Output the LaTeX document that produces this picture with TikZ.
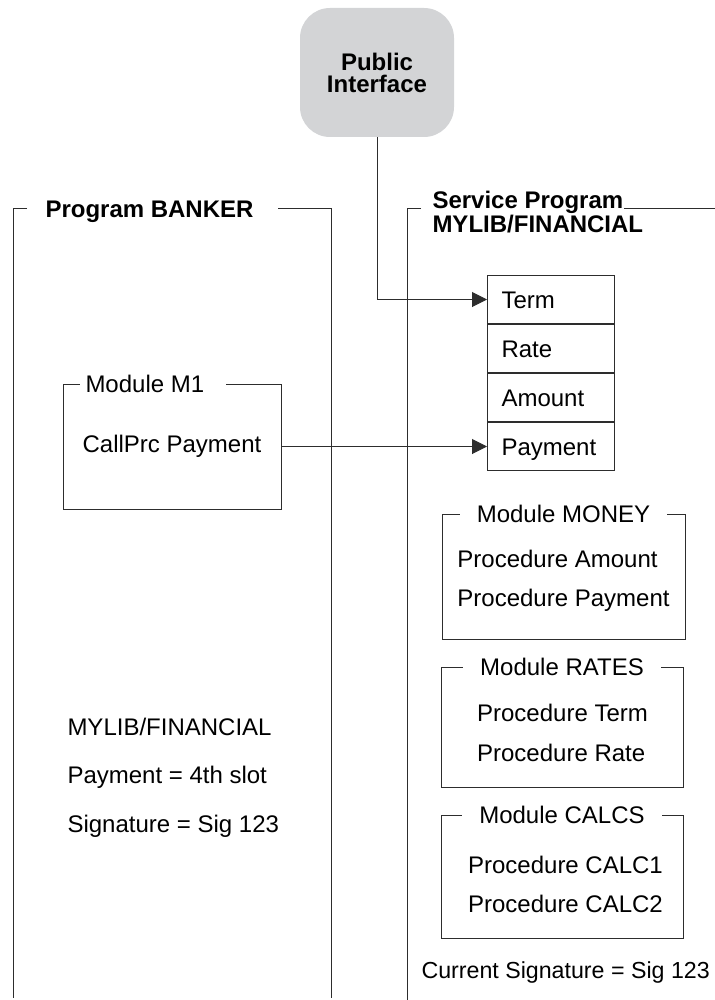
\documentclass[tikz,border=0pt]{standalone}
\usepackage{fontspec}
\setmainfont{Liberation Sans}
\usepackage{xcolor}
\usepackage{tikz}
\usetikzlibrary{shapes,positioning,arrows.meta}
\definecolor{pigray}{RGB}{211,212,214}
\definecolor{linegray}{RGB}{45,45,45}

\begin{document}
\fontsize{12}{14}\selectfont
\begin{tikzpicture}[x=0.5pt,y=-0.5pt,line width=0.5pt]
\tikzstyle{frame}=[draw=linegray]
\tikzstyle{modbox}=[rectangle,draw=linegray,minimum width=121.5pt,minimum height=62.5pt,inner sep=0pt]
\tikzstyle{modtitle}=[fill=white,inner xsep=8.5pt,inner ysep=1pt]
\tikzstyle{slot}=[rectangle,draw=linegray,minimum width=63.5pt,minimum height=24pt,text width=49.5pt,inner xsep=7pt,align=left,text height=8.6pt,text depth=0pt]
\tikzstyle{procs}=[align=left,inner sep=0pt,font=\fontsize{12}{19.75}\selectfont]
\tikzstyle{call}=[draw=linegray,-{Triangle[length=7.5pt,width=7.5pt]}]
\useasboundingbox (0,0) rectangle (715,1000);
% Public interface
\node[rectangle,rounded corners=15pt,fill=pigray,minimum width=77pt,minimum height=64.5pt,align=center,font=\fontsize{12}{11}\selectfont\bfseries] (pi) at (377,72.5) {Public\\Interface};
% Program BANKER (frame open at the bottom)
\draw[frame] (27,209) -- (13,209) -- (13,998);
\draw[frame] (278,209) -- (331,209) -- (331,998);
\node[anchor=base west,inner sep=0pt,font=\bfseries] (banker) at (45,217.5) {Program BANKER};
% Service program (frame open at the bottom and right)
\node[anchor=base west,inner sep=0pt,font=\bfseries] (svc) at (432,209) {Service Program};
\node[anchor=base west,inner sep=0pt,font=\bfseries] (svclib) at ([yshift=-12pt]svc.base west) {MYLIB/FINANCIAL};
\draw[frame] ([xshift=-5.5pt]svc.base west) -- (407,209) -- (407,1000);
\draw[frame] (svc.base east) -- (715,209);
% Export slots
\node[slot,anchor=north west] (term) at (487,275) {Term};
\node[slot,below=0pt of term] (rate) {Rate};
\node[slot,below=0pt of rate] (amount) {Amount};
\node[slot,below=0pt of amount] (payment) {Payment};
% Module M1
\node[modbox,minimum width=109pt] (m1) at (172,446.5) {};
\node[modtitle,anchor=west,inner xsep=3pt] (m1title) at (79,384) {Module M1\hspace*{8pt}};
\node[inner sep=0pt] (m1call) at (m1.center) {CallPrc Payment};
% Binding info
\node[procs,anchor=west,font=\fontsize{12}{24.25}\selectfont] (libinfo) at (67,777.5) {MYLIB/FINANCIAL\\Payment = 4th slot\\Signature = Sig 123};
% Modules of the service program
\node[modbox] (money) at (563.5,576.5) {};
\node[modtitle] (moneytitle) at (money.north) {Module MONEY};
\node[procs] (moneyprocs) at (563.5,581) {Procedure Amount\\Procedure Payment};
\node[modbox,minimum width=121pt,minimum height=60pt] (rates) at (562,727) {};
\node[modtitle] (ratestitle) at (rates.north) {Module RATES};
\node[procs] (ratesprocs) at (562.5,733) {Procedure Term\\Procedure Rate};
\node[modbox,minimum width=121pt,minimum height=61.5pt] (calcs) at (562,876.5) {};
\node[modtitle] (calcstitle) at (calcs.north) {Module CALCS};
\node[procs] (calcsprocs) at (565.5,884.5) {Procedure CALC1\\Procedure CALC2};
\node[anchor=west,inner sep=0pt,font=\fontsize{11.6}{14}\selectfont] (cursig) at (421,972) {Current Signature = Sig 123};
% Calls (filled arrows)
\draw[call] (pi.south) |- (term.west);
\draw[call] (m1.east) -- (m1.east -| payment.west);
\end{tikzpicture}
\end{document}
